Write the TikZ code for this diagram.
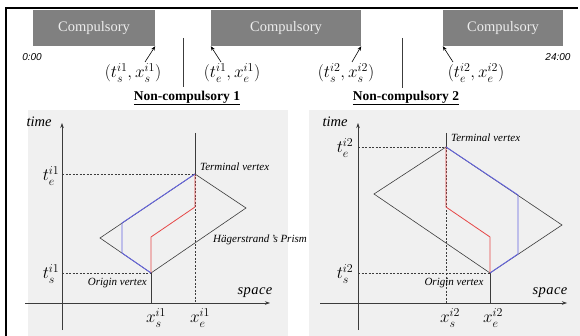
\documentclass[tikz,border=0pt]{standalone}
\usepackage[no-math]{fontspec}
\setmainfont{Liberation Serif}
\newfontfamily\clockfont{Liberation Sans}
\usetikzlibrary{arrows.meta}
\definecolor{barcol}{RGB}{128,128,128}
\definecolor{panelcol}{RGB}{240,240,240}
\definecolor{bluecol}{RGB}{100,100,225}
\definecolor{redcol}{RGB}{230,70,70}
\definecolor{edgecol}{RGB}{60,60,60}
\begin{document}
\begin{tikzpicture}[x=1pt,y=-1pt,
  bar/.style={fill=barcol,draw=none,inner sep=0pt,minimum height=36pt,text=white!93!black,font=\fontsize{14.5}{16}\selectfont},
  callout/.style={-{Stealth[length=4.5pt,width=3.5pt]},line width=0.6pt,draw=black},
  ptlabel/.style={inner sep=0pt,font=\fontsize{18.5}{20}\selectfont},
  title/.style={inner sep=0pt,font=\fontsize{13.5}{15}\selectfont\bfseries},
  clock/.style={inner sep=0pt,font=\fontsize{10}{12}\selectfont\clockfont\itshape},
  axis/.style={-{Stealth[length=5pt,width=3.5pt]},line width=0.6pt,draw=edgecol},
  axlabel/.style={inner sep=0pt,font=\fontsize{14.5}{16}\selectfont\itshape},
  mlabel/.style={inner sep=0pt,font=\fontsize{17.5}{19}\selectfont},
  small/.style={inner sep=0pt,font=\fontsize{11}{13}\selectfont\itshape},
  prism/.style={draw=edgecol,line width=0.6pt},
  guide/.style={draw=edgecol,line width=0.6pt,dashed,dash pattern=on 2pt off 1.5pt},
  solidguide/.style={draw=edgecol,line width=0.6pt},
  bluepath/.style={draw=bluecol,line width=0.9pt,line join=round},
  redpath/.style={draw=redcol,line width=0.8pt,line join=round}]
\useasboundingbox (0,0) rectangle (580,336);
% frame
\draw[line width=2.2pt] (6,336) -- (6,8) -- (578,8);
% timeline bar
\node[bar,minimum width=122pt] (c1) at (94,28) {Compulsory};
\node[bar,minimum width=150pt] (c2) at (286,28) {Compulsory};
\node[bar,minimum width=120pt] (c3) at (503,28) {Compulsory};
\node[clock] (t0) at (32,57) {0:00};
\node[clock] (t24) at (558,57) {24:00};
% point labels
\node[ptlabel] (ls1) at (133,73) {$(t_s^{i1},x_s^{i1})$};
\node[ptlabel] (le1) at (232,73) {$(t_e^{i1},x_e^{i1})$};
\node[ptlabel] (ls2) at (346,73) {$(t_s^{i2},x_s^{i2})$};
\node[ptlabel] (le2) at (476,73) {$(t_e^{i2},x_e^{i2})$};
\coordinate (a1) at (145,62);
\coordinate (a2) at (221,62);
\coordinate (a3) at (352,62);
\coordinate (a4) at (453,62);
\draw[callout] (a1) -- (c1.south east);
\draw[callout] (a2) -- (c2.south west);
\draw[callout] (a3) -- (c2.south east);
\draw[callout] (a4) -- (c3.south west);
% titles
\node[title] (n1) at (187,98) {\underline{Non-compulsory 1}};
\node[title] (n2) at (406,98) {\underline{Non-compulsory 2}};
\coordinate (g1) at (183,38);
\coordinate (g2) at (402,38);
\draw[solidguide] (g1) -- (g1 |- 0,87);
\draw[solidguide] (g2) -- (g2 |- 0,88);
% panels
\fill[panelcol] (28,110) rectangle (288,336);
\fill[panelcol] (309,110) rectangle (580,336);
% ---------------- left panel
\coordinate (tb1) at (62,330);
\coordinate (tt1) at (62,123);
\coordinate (sl1) at (25,303);
\coordinate (sr1) at (270,303);
\coordinate (ov1) at (151,273);
\coordinate (tv1) at (195,174);
\coordinate (lv1) at (100,238);
\coordinate (rv1) at (246,208);
\coordinate (vt1) at (195,133);
\coordinate (b1a) at (122,223);
\coordinate (b1b) at (122,253);
\coordinate (r1a) at (151,237);
\coordinate (r1b) at (195,207);
\draw[guide] (tt1 |- tv1) -- (tv1);
\draw[guide] (tt1 |- ov1) -- (ov1);
\draw[guide] (tv1) -- (tv1 |- sr1);
\draw[solidguide] (ov1) -- (ov1 |- sr1);
\draw[solidguide] (vt1) -- (tv1);
\draw[prism] (ov1) -- (lv1) -- (tv1) -- (rv1) -- cycle;
\draw[redpath] (ov1) -- (r1a) -- (r1b) -- (tv1);
\draw[bluepath] (tv1) -- (b1a) -- (b1b) -- (ov1);
\draw[axis] (tb1) -- (tt1);
\draw[axis] (sl1) -- (sr1);
\node[axlabel] (time1) at (39,122) {time};
\node[axlabel] (space1) at (255,293) {s\kern0.4pt p\kern0.4pt a\kern0.4pt c\kern0.4pt e};
\node[mlabel] (te1) at (51,176) {$t_e^{i1}$};
\node[mlabel] (ts1) at (51,274) {$t_s^{i1}$};
\node[mlabel] (xs1) at (156,318) {$x_s^{i1}$};
\node[mlabel] (xe1) at (200,318) {$x_e^{i1}$};
\node[small,anchor=west] (term1) at (200,167) {Terminal vertex};
\node[small,anchor=east] (orig1) at (147,283) {Origin vertex};
\node[small,anchor=west] (hag) at (213,240) {Hägerstrand\,’s Prism};
% ---------------- right panel
\coordinate (tb2) at (358,330);
\coordinate (tt2) at (358,123);
\coordinate (sl2) at (320,303);
\coordinate (sr2) at (567,303);
\coordinate (ov2) at (490,273);
\coordinate (tv2) at (446,147);
\coordinate (lv2) at (374,194);
\coordinate (rv2) at (562,225);
\coordinate (vt2) at (446,133);
\coordinate (b2a) at (518,195);
\coordinate (b2b) at (518,254);
\coordinate (r2a) at (446,207);
\coordinate (r2b) at (490,237);
\draw[guide] (tt2 |- tv2) -- (tv2);
\draw[guide] (tt2 |- ov2) -- (ov2);
\draw[guide] (tv2) -- (tv2 |- sr2);
\draw[solidguide] (ov2) -- (ov2 |- sr2);
\draw[solidguide] (vt2) -- (tv2);
\draw[prism] (ov2) -- (lv2) -- (tv2) -- (rv2) -- cycle;
\draw[redpath] (tv2) -- (r2a) -- (r2b) -- (ov2);
\draw[bluepath] (tv2) -- (b2a) -- (b2b) -- (ov2);
\draw[axis] (tb2) -- (tt2);
\draw[axis] (sl2) -- (sr2);
\node[axlabel] (time2) at (335,122) {time};
\node[axlabel] (space2) at (550,293) {s\kern0.4pt p\kern0.4pt a\kern0.4pt c\kern0.4pt e};
\node[mlabel] (te2) at (345,148) {$t_e^{i2}$};
\node[mlabel] (ts2) at (345,274) {$t_s^{i2}$};
\node[mlabel] (xs2) at (450,318) {$x_s^{i2}$};
\node[mlabel] (xe2) at (493,318) {$x_e^{i2}$};
\node[small,anchor=west] (term2) at (451,138) {Terminal vertex};
\node[small] (orig2) at (454,283) {Origin vertex};
\end{tikzpicture}
\end{document}
